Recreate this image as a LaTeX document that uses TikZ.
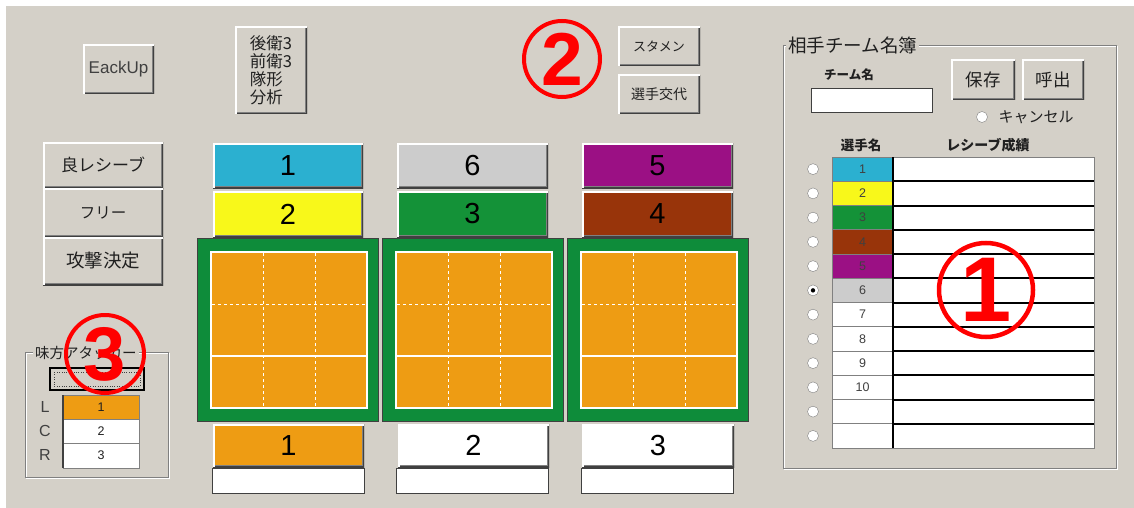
\documentclass[tikz,border=0pt]{standalone}
\usepackage{fontspec}
\setmainfont{Liberation Sans}
\newfontfamily\jp{Noto Sans CJK JP}
\definecolor{bg}{RGB}{212,208,200}
\definecolor{sh}{RGB}{64,64,64}
\definecolor{shb}{RGB}{128,128,128}
\definecolor{cyanc}{RGB}{43,176,208}
\definecolor{yel}{RGB}{248,248,26}
\definecolor{grn}{RGB}{20,146,56}
\definecolor{brn}{RGB}{152,52,10}
\definecolor{pur}{RGB}{155,16,132}
\definecolor{lgr}{RGB}{204,204,204}
\definecolor{org}{RGB}{238,156,19}
\definecolor{court}{RGB}{14,140,58}
\definecolor{txt}{RGB}{32,32,32}
\definecolor{mark}{RGB}{255,0,0}
\newcommand\myrect[7]{\node[box,minimum width={((#5)-(#3))*1pt},minimum height={((#6)-(#4))*1pt},#1] (#2) at ({((#3)+(#5))/2},{((#4)+(#6))/2}) {#7};}
\newcommand\digf{\fontsize{29}{29}\selectfont}
\newcommand\tabf{\fontsize{12.5}{12}\selectfont}
\newcommand\etchbox[4]{\draw[white] (#1+1,#2+1) rectangle (#3+1,#4+1); \draw[shb] (#1,#2) rectangle (#3,#4);}
\tikzset{
  box/.style={inner sep=0pt, outer sep=0pt, text=txt},
  bevel/.style={path picture={
    \draw[shb,line width=4pt] (path picture bounding box.south west) -- (path picture bounding box.south east) -- (path picture bounding box.north east);
    \draw[sh,line width=2pt] (path picture bounding box.south west) -- (path picture bounding box.south east) -- (path picture bounding box.north east);
    \draw[white,line width=3pt] (path picture bounding box.south west) -- (path picture bounding box.north west) -- (path picture bounding box.north east);
  }},
  btn/.style={box, fill=bg, bevel},
  cbtn/.style={box, bevel, font=\digf, text=black},
  radio/.style={circle, draw=shb, fill=white, minimum size=11pt, inner sep=0pt},
  redmark/.style={circle, draw=mark, text=mark, line width=4pt, inner sep=0pt, font=\bfseries},
  title/.style={fill=bg, inner sep=2pt, anchor=west, text=txt},
  courtline/.style={white, line width=1pt, dash pattern=on 3pt off 3pt},
}
\begin{document}
\begin{tikzpicture}[x=1pt,y=-1pt]
\useasboundingbox (0,0) rectangle (1134,508);
\fill[white] (0,0) rectangle (1134,508);
\fill[bg] (6,6) rectangle (1134,508);

% top-left buttons
\myrect{btn,font=\fontsize{17}{17}\selectfont,text=sh}{backup}{83}{45}{154}{94}{EackUp}
\myrect{btn,font=\jp\fontsize{16.5}{18}\selectfont,align=left}{form}{235}{27}{307}{114}{後衛3\\前衛3\\隊形\\分析}
\myrect{btn,font=\jp\fontsize{13}{13}\selectfont}{stamen}{618}{27}{700}{66}{スタメン}
\myrect{btn,font=\jp\fontsize{14}{14}\selectfont}{change}{618}{75}{700}{114}{選手交代}

% left buttons
\myrect{btn,font=\jp\fontsize{17}{17}\selectfont}{good}{43}{142}{163}{188}{良レシーブ}
\myrect{btn,font=\jp\fontsize{15.5}{17}\selectfont}{free}{43}{188}{163}{237}{フリー}
\myrect{btn,font=\jp\fontsize{18.5}{18}\selectfont}{kill}{43}{237}{163}{285}{攻撃決定}

% own attackers group
\etchbox{25}{352}{168}{477}
\node[title,font=\jp\fontsize{14.5}{14}\selectfont] (atk) at (33,353) {味方アタッカー};
\myrect{box,fill=bg,draw=black,line width=1.5pt}{atkbtn}{50}{368}{144}{390}{}
\draw[dotted,sh] ([shift={(4pt,-4pt)}]atkbtn.north west) rectangle ([shift={(-4pt,4pt)}]atkbtn.south east);
\myrect{fill=org,draw=shb,font=\tabf}{a1}{63}{395}{139}{419}{1}
\myrect{fill=white,draw=shb,font=\tabf}{a2}{63}{419}{139}{443}{2}
\myrect{fill=white,draw=shb,font=\tabf}{a3}{63}{443}{139}{468}{3}
\draw[sh,line width=1.5pt] (a1.north west) -- (a3.south west);
\node[text=sh,font=\fontsize{16}{16}\selectfont] (lL) at (45,407) {L};
\node[text=sh,font=\fontsize{16}{16}\selectfont] (lC) at (45,431) {C};
\node[text=sh,font=\fontsize{16}{16}\selectfont] (lR) at (45,455) {R};

% courts
\foreach \k/\x/\bx in {1/197/213,2/382/397,3/567/582} {
  \myrect{fill=court,draw=sh,line width=0.6pt}{court\k}{\x}{238}{\x+181}{421}{}
  \myrect{fill=org,draw=white,line width=2.5pt}{inner\k}{\x+14}{252}{\x+170}{408}{}
  \draw[courtline] (\x+66,253) -- (\x+66,407);
  \draw[courtline] (\x+118,253) -- (\x+118,407);
  \draw[courtline] (\x+15,304) -- (\x+169,304);
  \draw[white,line width=2.5pt] (\x+14,356) -- (\x+170,356);
  \myrect{box,fill=white,draw=sh,line width=1pt}{blank\k}{\bx-1}{468}{\bx+151}{493}{}
}
\myrect{cbtn,fill=cyanc}{t1}{213}{143}{363}{188}{1}
\myrect{cbtn,fill=yel}{t2}{213}{191}{363}{237}{2}
\myrect{cbtn,fill=lgr}{t6}{397}{143}{548}{188}{6}
\myrect{cbtn,fill=grn}{t3}{397}{191}{548}{237}{3}
\myrect{cbtn,fill=pur}{t5}{582}{143}{733}{188}{5}
\myrect{cbtn,fill=brn}{t4}{582}{191}{733}{237}{4}
\myrect{cbtn,fill=org}{p1}{213}{424}{364}{467}{1}
\myrect{cbtn,fill=white}{p2}{398}{424}{549}{467}{2}
\myrect{cbtn,fill=white}{p3}{582}{424}{734}{467}{3}

% opponent roster group
\etchbox{783}{45}{1116}{468}
\node[title,font=\jp\fontsize{18.5}{18}\selectfont] (roster) at (786,45) {相手チーム名簿};
\node[text=txt,font=\jp\bfseries\fontsize{12.5}{12}\selectfont] (tnlab) at (849,75) {チーム名};
\myrect{fill=white,draw=sh,line width=1pt}{tname}{811}{89}{932}{113}{}
\myrect{btn,font=\jp\fontsize{17.5}{17}\selectfont}{save}{951}{60}{1015}{100}{保存}
\myrect{btn,font=\jp\fontsize{17.5}{17}\selectfont}{load}{1022}{60}{1084}{100}{呼出}
\node[radio] (rc) at (982,117) {};
\node[text=txt,font=\jp\fontsize{15}{15}\selectfont,anchor=west] (cancel) at (995,117) {キャンセル};
\node[text=txt,font=\jp\bfseries\fontsize{13.5}{13}\selectfont] (h1) at (861,145) {選手名};
\node[text=txt,font=\jp\bfseries\fontsize{14}{14}\selectfont] (h2) at (988,145) {レシーブ成績};
\foreach \i/\c/\t in {1/cyanc/1,2/yel/2,3/grn/3,4/brn/4,5/pur/5,6/lgr/6,7/white/7,8/white/8,9/white/9,10/white/10,11/white/,12/white/} {
  \pgfmathsetmacro\yt{157+(\i-1)*24.25}
  \pgfmathsetmacro\yb{\yt+24.25}
  \myrect{fill=\c,draw=shb,line width=0.8pt,font=\tabf,text=sh}{n\i}{832}{\yt}{893}{\yb}{\t}
  \myrect{fill=white}{s\i}{893}{\yt}{1094}{\yb}{}
  \node[radio] (r\i) at (813,{(\yt+\yb)/2}) {};
}
\foreach \i in {1,...,11} {
  \draw[black,line width=2pt] (s\i.south west) -- (s\i.south east);
}
\draw[shb,line width=1pt] (n1.north west) rectangle (s12.south east);
\draw[black,line width=2pt] (s1.north west) -- (s12.south west);
\fill[black] (r6) circle (2.2pt);

% red markers
\node[redmark,minimum size=76pt,font=\bfseries\fontsize{75}{75}\selectfont] (m2) at (562,59) {2};
\node[redmark,minimum size=94pt,line width=4.5pt,font=\bfseries\fontsize{92}{92}\selectfont] (m1) at (986,290) {1};
\node[redmark,minimum size=78pt,font=\bfseries\fontsize{76}{76}\selectfont] (m3) at (105,354) {3};
\end{tikzpicture}
\end{document}
